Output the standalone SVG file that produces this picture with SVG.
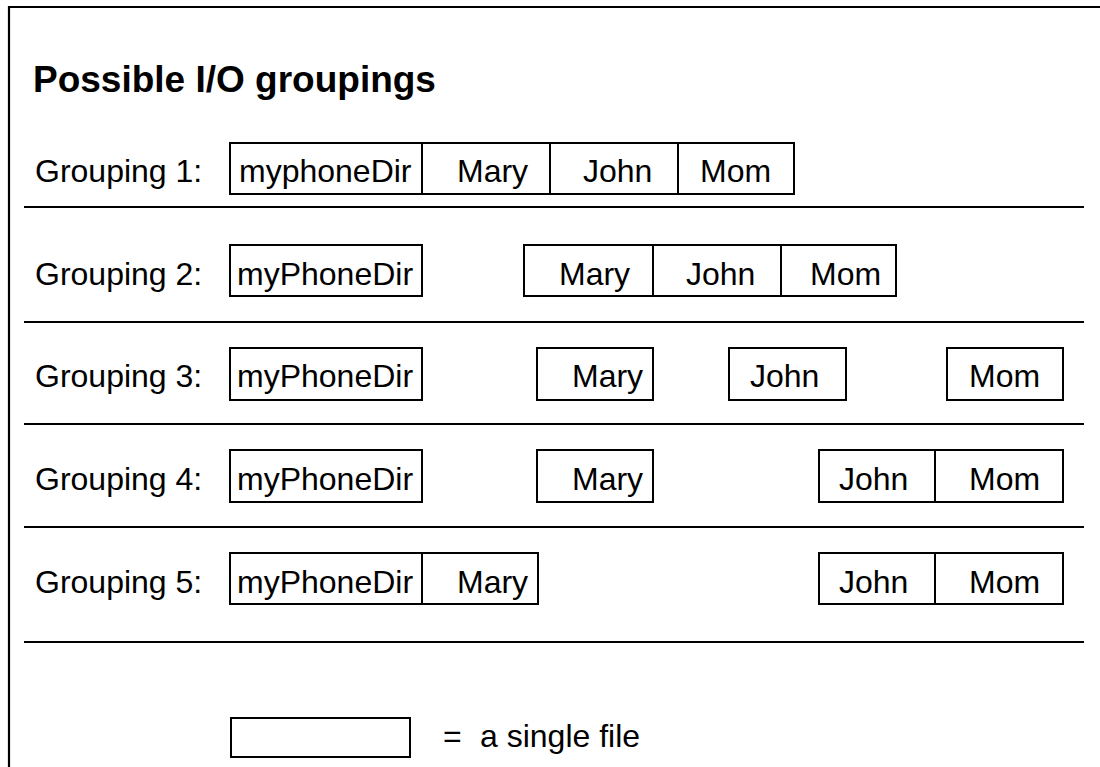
<svg xmlns="http://www.w3.org/2000/svg" width="1100" height="767" viewBox="0 0 1100 767">
<style>
  .box{fill:#fff;stroke:#000;stroke-width:2}
  .div{stroke:#000;stroke-width:2}
  .sep{stroke:#000;stroke-width:2.2}
  text{font-family:"Liberation Sans",Arial,sans-serif;font-size:32px;fill:#000}
  .title{font-size:37px;font-weight:bold}
</style>
<rect x="0" y="0" width="1100" height="767" fill="#fff"/>
<g id="frame">
  <path d="M9,767 V7 H1100" fill="none" stroke="#000" stroke-width="2.2"/>
</g>
<text class="title" x="33" y="92">Possible I/O groupings</text>

<g id="separators">
  <line class="sep" x1="24" y1="207" x2="1084" y2="207"/>
  <line class="sep" x1="24" y1="322" x2="1084" y2="322"/>
  <line class="sep" x1="24" y1="424" x2="1084" y2="424"/>
  <line class="sep" x1="24" y1="527" x2="1084" y2="527"/>
  <line class="sep" x1="24" y1="642" x2="1084" y2="642"/>
</g>

<g id="row1">
  <text x="35" y="182">Grouping 1:</text>
  <rect class="box" x="230" y="143" width="564" height="51"/>
  <line class="div" x1="422" y1="143" x2="422" y2="194"/>
  <line class="div" x1="550" y1="143" x2="550" y2="194"/>
  <line class="div" x1="678" y1="143" x2="678" y2="194"/>
  <text x="239" y="182">myphoneDir</text>
  <text x="457" y="182">Mary</text>
  <text x="583" y="182">John</text>
  <text x="700" y="182">Mom</text>
</g>

<g id="row2">
  <text x="35" y="285">Grouping 2:</text>
  <rect class="box" x="230" y="245" width="192" height="51"/>
  <text x="237" y="285">myPhoneDir</text>
  <rect class="box" x="524" y="245" width="372" height="51"/>
  <line class="div" x1="653" y1="245" x2="653" y2="296"/>
  <line class="div" x1="781" y1="245" x2="781" y2="296"/>
  <text x="559" y="285">Mary</text>
  <text x="686" y="285">John</text>
  <text x="810" y="285">Mom</text>
</g>

<g id="row3">
  <text x="35" y="387">Grouping 3:</text>
  <rect class="box" x="230" y="348" width="192" height="52"/>
  <text x="237" y="387">myPhoneDir</text>
  <rect class="box" x="537" y="348" width="116" height="52"/>
  <text x="572" y="387">Mary</text>
  <rect class="box" x="729" y="348" width="117" height="52"/>
  <text x="750" y="387">John</text>
  <rect class="box" x="947" y="348" width="116" height="52"/>
  <text x="969" y="387">Mom</text>
</g>

<g id="row4">
  <text x="35" y="490">Grouping 4:</text>
  <rect class="box" x="230" y="450" width="192" height="52"/>
  <text x="237" y="490">myPhoneDir</text>
  <rect class="box" x="537" y="450" width="116" height="52"/>
  <text x="572" y="490">Mary</text>
  <rect class="box" x="819" y="450" width="244" height="52"/>
  <line class="div" x1="935" y1="450" x2="935" y2="502"/>
  <text x="839" y="490">John</text>
  <text x="969" y="490">Mom</text>
</g>

<g id="row5">
  <text x="35" y="593">Grouping 5:</text>
  <rect class="box" x="230" y="553" width="308" height="51"/>
  <line class="div" x1="422" y1="553" x2="422" y2="604"/>
  <text x="237" y="593">myPhoneDir</text>
  <text x="457" y="593">Mary</text>
  <rect class="box" x="819" y="553" width="244" height="51"/>
  <line class="div" x1="935" y1="553" x2="935" y2="604"/>
  <text x="839" y="593">John</text>
  <text x="969" y="593">Mom</text>
</g>

<g id="legend">
  <rect class="box" x="231" y="718" width="179" height="39"/>
  <text x="443" y="747">=</text>
  <text x="480" y="747">a single file</text>
</g>
</svg>
